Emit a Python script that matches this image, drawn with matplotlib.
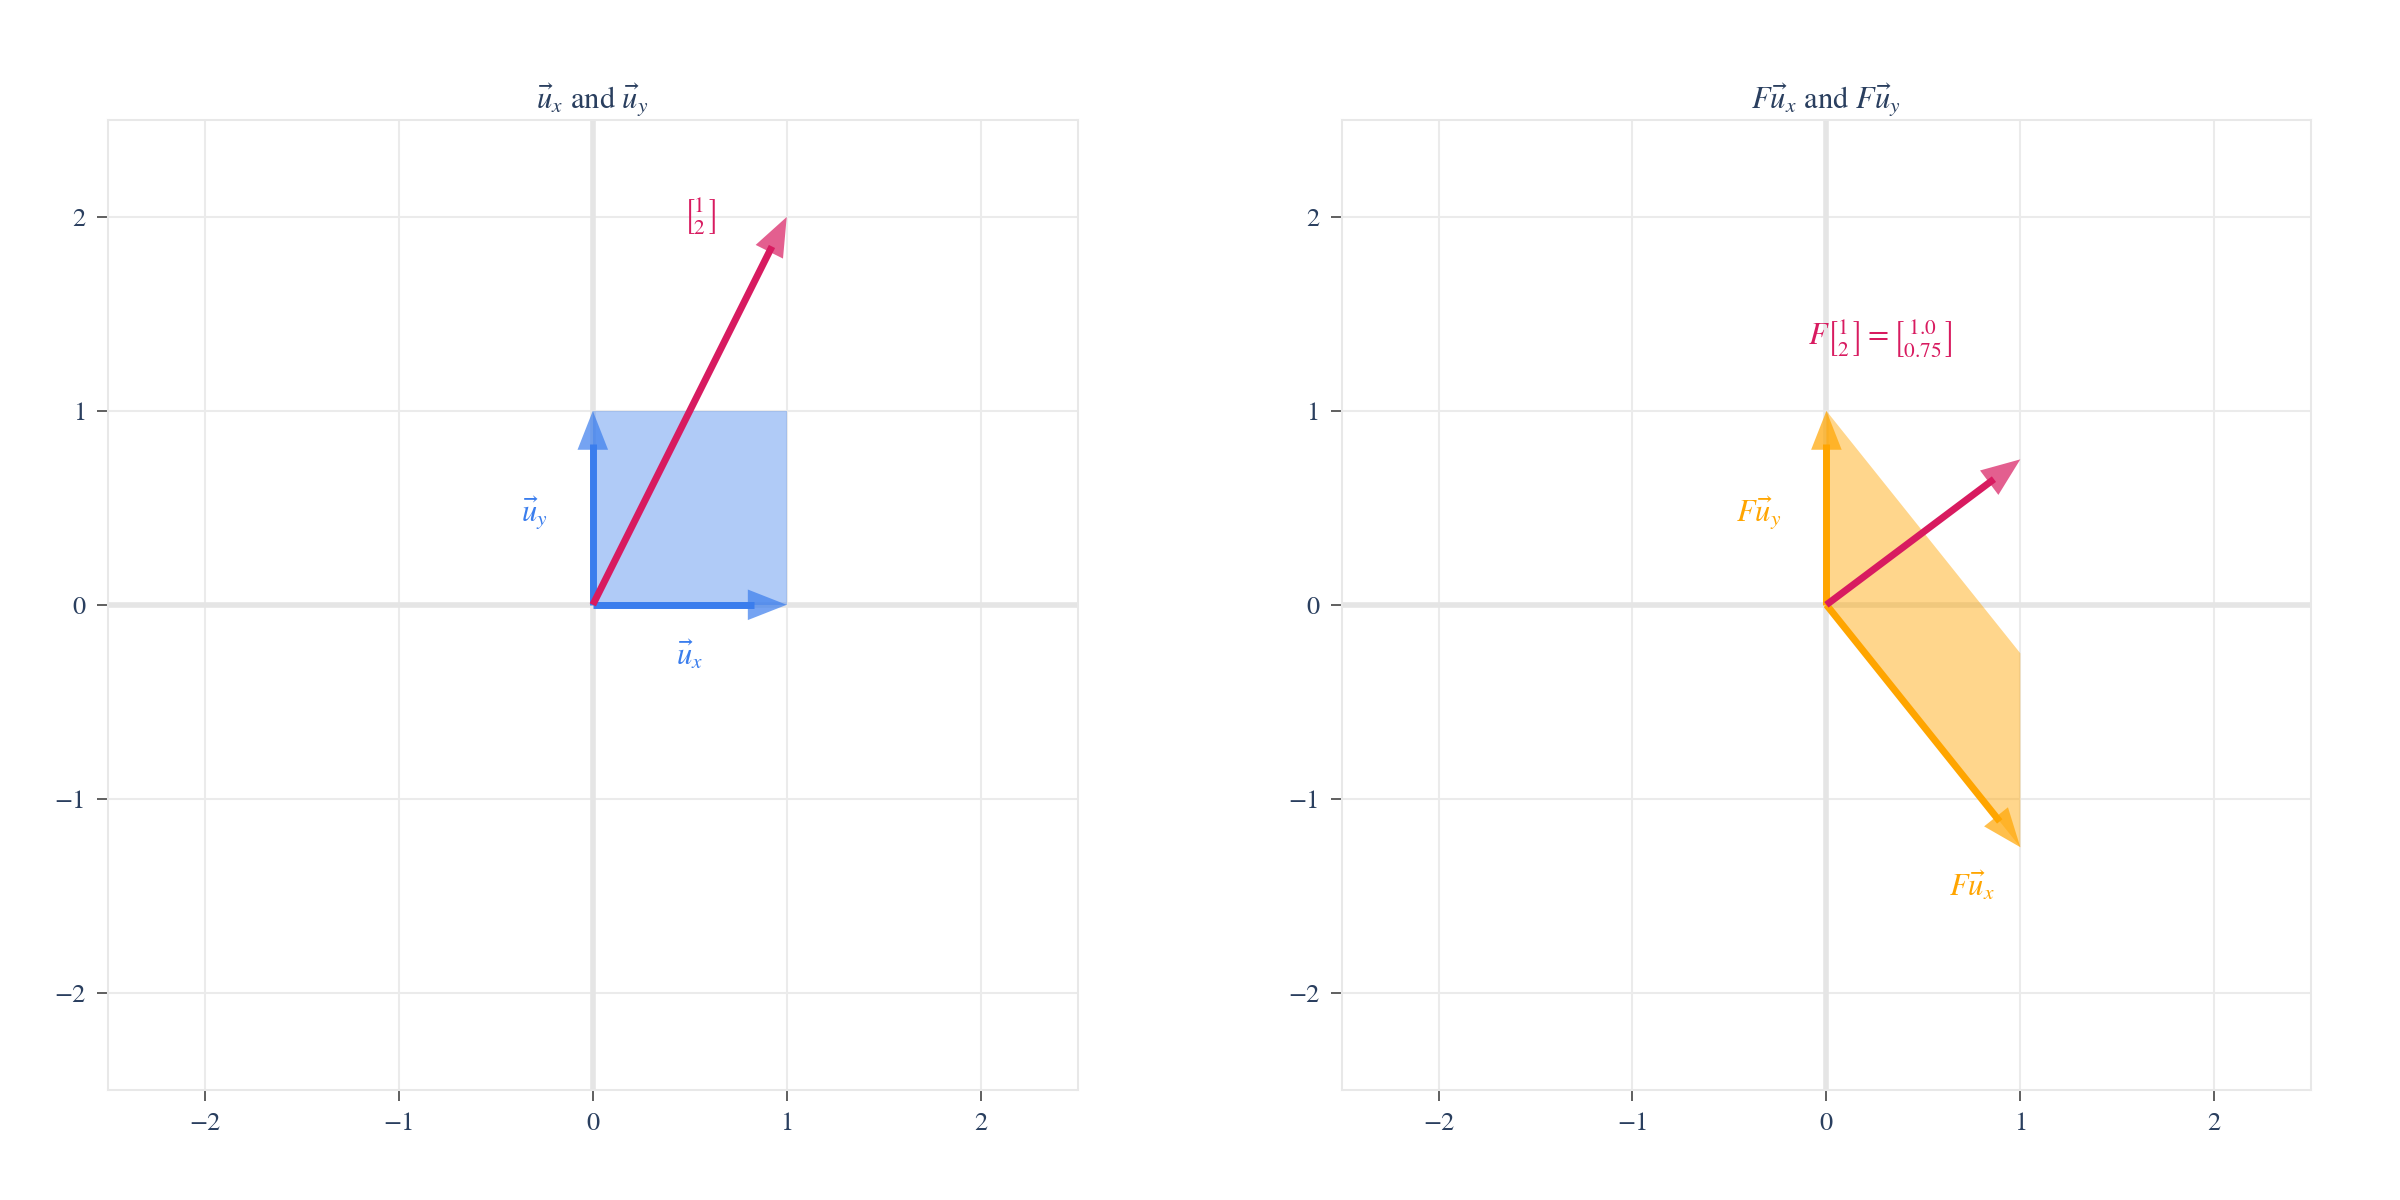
import numpy as np
import matplotlib.pyplot as plt
from matplotlib.patches import Polygon

plt.rcParams['font.family'] = ['STIXGeneral', 'DejaVu Serif']
plt.rcParams['mathtext.fontset'] = 'stix'

BLUE = '#3a7ded'
RED = '#d81b60'
ORANGE = '#ffa500'
TXT = '#2a3f5f'

ticks = [-2, -1, 0, 1, 2]
ux = (1, 0)
uy = (0, 1)
v = (1, 2)
F = np.array([[1.0, 0.0], [-1.25, 1.0]])
Fux = tuple(F @ ux)
Fuy = tuple(F @ uy)
Fv = tuple(F @ v)


def col(a, b):
    return r'\left[\genfrac{}{}{0}{}{%s}{%s}\right]' % (a, b)


def arrow(ax, vec, color):
    vec = np.array(vec, float)
    n = np.linalg.norm(vec)
    base = vec * (1 - 0.17 / n)
    ax.plot([0, base[0]], [0, base[1]], color=color, lw=5, solid_capstyle='butt', zorder=4)
    ax.annotate('', xy=vec, xytext=base,
                arrowprops=dict(arrowstyle='-|>,head_length=1.4,head_width=0.55',
                                mutation_scale=20, color=color, alpha=0.7, lw=0,
                                shrinkA=0, shrinkB=0), zorder=5)


def setup(ax, title):
    ax.set_xlim(-2.5, 2.5)
    ax.set_ylim(-2.5, 2.5)
    ax.set_xticks(ticks)
    ax.set_yticks(ticks)
    ax.set_xticklabels(['\u2212%d' % -t if t < 0 else str(t) for t in ticks])
    ax.set_yticklabels(['\u2212%d' % -t if t < 0 else str(t) for t in ticks])
    ax.grid(color='#ebebeb', lw=1.5)
    ax.set_axisbelow(True)
    ax.axhline(0, color='#e5e5e5', lw=4, zorder=1)
    ax.axvline(0, color='#e5e5e5', lw=4, zorder=1)
    for s in ax.spines.values():
        s.set_color('#e8e8e8')
        s.set_linewidth(1.5)
    ax.tick_params(colors='#444444', labelcolor=TXT, labelsize=19, length=8, width=1.2, pad=8)
    ax.set_title(title, fontsize=22, color=TXT, pad=8)


fig = plt.figure(figsize=(24, 12), dpi=100)
ax1 = fig.add_axes([0.045, 0.092, 0.404, 0.808])
ax2 = fig.add_axes([0.559, 0.092, 0.404, 0.808])

setup(ax1, r'$\vec{u}_x$ and $\vec{u}_y$')
ax1.add_patch(Polygon([(0, 0), ux, (ux[0] + uy[0], ux[1] + uy[1]), uy],
                      color='#3a7ded', alpha=0.4, lw=0, zorder=2))
arrow(ax1, ux, BLUE)
arrow(ax1, uy, BLUE)
arrow(ax1, v, RED)
ax1.text(0.5, -0.26, r'$\vec{u}_x$', color=BLUE, fontsize=22, ha='center', va='center')
ax1.text(-0.3, 0.47, r'$\vec{u}_y$', color=BLUE, fontsize=22, ha='center', va='center')
ax1.text(0.55, 2.0, '$' + col(1, 2) + '$', color=RED, fontsize=22,
         ha='center', va='center')

setup(ax2, r'$F\vec{u}_x$ and $F\vec{u}_y$')
ax2.add_patch(Polygon([(0, 0), Fux, (Fux[0] + Fuy[0], Fux[1] + Fuy[1]), Fuy],
                      color='#ffa500', alpha=0.45, lw=0, zorder=2))
arrow(ax2, Fux, ORANGE)
arrow(ax2, Fuy, ORANGE)
arrow(ax2, Fv, RED)
ax2.text(0.75, -1.45, r'$F\vec{u}_x$', color=ORANGE, fontsize=22, ha='center', va='center')
ax2.text(-0.35, 0.47, r'$F\vec{u}_y$', color=ORANGE, fontsize=22, ha='center', va='center')
ax2.text(0.28, 1.37, '$F' + col(1, 2) + '=' + col('1.0', '0.75') + '$',
         color=RED, fontsize=22, ha='center', va='center')

fig.savefig('out.png', dpi=100, facecolor='white')
